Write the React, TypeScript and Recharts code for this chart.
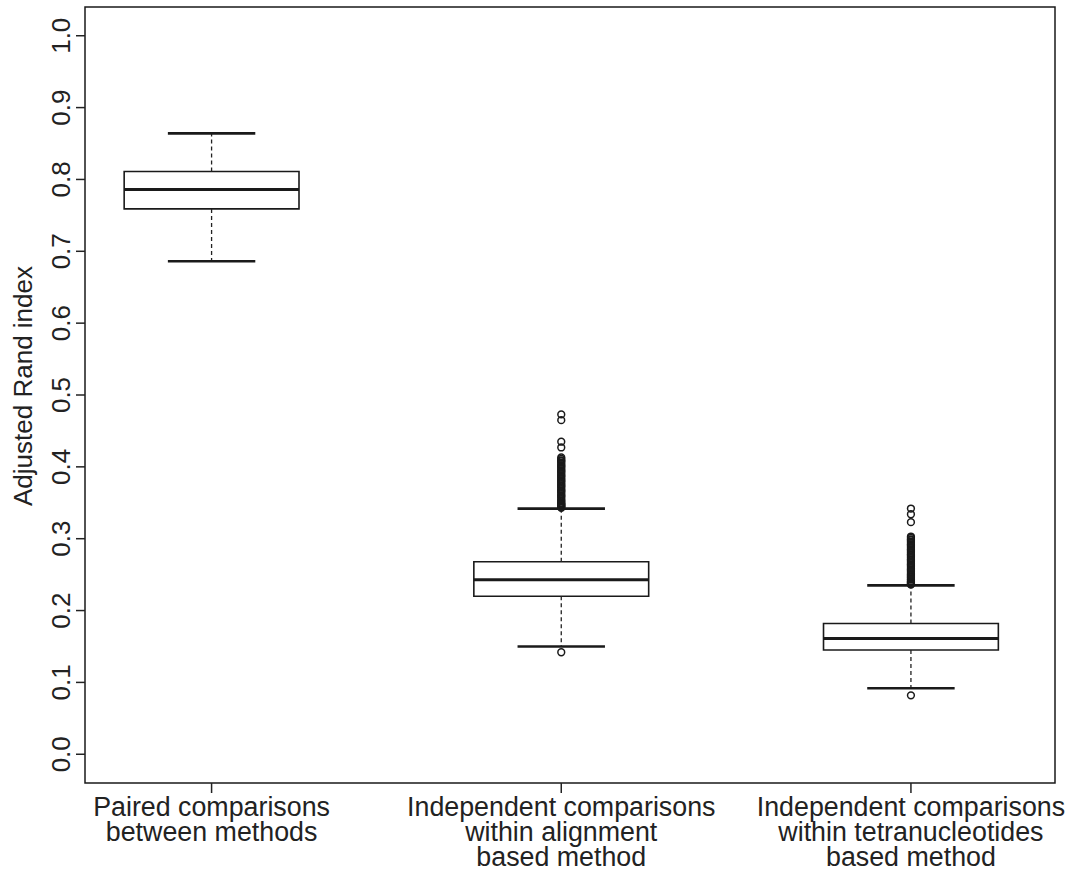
import React from 'react';
import {
  ComposedChart,
  Scatter,
  XAxis,
  YAxis,
  ReferenceArea,
  ReferenceLine,
} from 'recharts';

// Box plot of Adjusted Rand index per comparison group
const categories = [
  ['Paired comparisons', 'between methods'],
  ['Independent comparisons', 'within alignment', 'based method'],
  ['Independent comparisons', 'within tetranucleotides', 'based method'],
];
const positions = [1, 2, 3];
const lowerWhisker = [0.686, 0.15, 0.092];
const q1 = [0.759, 0.22, 0.145];
const median = [0.786, 0.243, 0.161];
const q3 = [0.811, 0.268, 0.182];
const upperWhisker = [0.864, 0.342, 0.235];

const outliersAlignment = [
  0.473, 0.465, 0.435, 0.427, 0.413, 0.411, 0.409, 0.408, 0.406, 0.404, 0.402, 0.401,
  0.399, 0.397, 0.395, 0.394, 0.392, 0.39, 0.388, 0.387, 0.385, 0.383, 0.381, 0.38,
  0.378, 0.376, 0.374, 0.373, 0.371, 0.369, 0.367, 0.366, 0.364, 0.362, 0.36, 0.359,
  0.357, 0.355, 0.353, 0.352, 0.35, 0.349, 0.348, 0.347, 0.346, 0.345, 0.344, 0.343,
  0.142,
];
const outliersTetra = [
  0.342, 0.334, 0.323, 0.303, 0.301, 0.299, 0.298, 0.296, 0.294, 0.292, 0.291, 0.289,
  0.287, 0.285, 0.284, 0.282, 0.28, 0.278, 0.277, 0.275, 0.273, 0.271, 0.27, 0.268,
  0.266, 0.264, 0.263, 0.261, 0.259, 0.257, 0.256, 0.254, 0.252, 0.25, 0.249, 0.247,
  0.246, 0.244, 0.243, 0.241, 0.24, 0.239, 0.238, 0.237, 0.236, 0.082,
];
const outliers = [[], outliersAlignment, outliersTetra];

const yTicks = [0, 0.1, 0.2, 0.3, 0.4, 0.5, 0.6, 0.7, 0.8, 0.9, 1.0];

const xDomain: [number, number] = [0.638, 3.412];
const yDomain: [number, number] = [-0.04, 1.04];
const boxHalf = 0.25;
const capHalf = 0.125;
const font = '"Liberation Sans", Arial, sans-serif';
const ink = '#1a1a1a';

const outlierPoints = positions.flatMap((p, i) => outliers[i].map((v) => ({ x: p, y: v })));

function OpenCircle(props: any) {
  const { cx, cy } = props;
  if (cx == null || cy == null) return null;
  return <circle cx={cx} cy={cy} r={3.4} fill="none" stroke={ink} strokeWidth={1.5} />;
}

function CategoryTick(props: any) {
  const { x, y, payload } = props;
  const lines = categories[Math.round(payload.value) - 1] || [];
  return (
    <text x={x} y={y} textAnchor="middle" fontSize={26.8} fill="#222" fontFamily={font}>
      {lines.map((l, i) => (
        <tspan key={i} x={x} dy={i === 0 ? 21 : 25}>
          {l}
        </tspan>
      ))}
    </text>
  );
}

function ValueTick(props: any) {
  const { x, y, payload } = props;
  const bx = x - 4;
  return (
    <text
      x={bx}
      y={y}
      transform={`rotate(-90, ${bx}, ${y})`}
      textAnchor="middle"
      fontSize={26}
      fill="#222"
      fontFamily={font}
    >
      {Number(payload.value).toFixed(1)}
    </text>
  );
}

function AxisTitle(props: any) {
  const { viewBox } = props;
  const tx = viewBox.x + 22;
  const ty = 386;
  return (
    <text
      x={tx}
      y={ty}
      transform={`rotate(-90, ${tx}, ${ty})`}
      textAnchor="middle"
      fontSize={26}
      fill="#222"
      fontFamily={font}
    >
      Adjusted Rand index
    </text>
  );
}

export default function App() {
  return (
    <div style={{ position: 'absolute', left: 0, top: 0, background: '#fff' }}>
      <ComposedChart
        width={1071}
        height={872}
        margin={{ top: 7, right: 16, left: 10, bottom: 4 }}
      >
        <XAxis
          type="number"
          dataKey="x"
          domain={xDomain}
          allowDataOverflow
          ticks={positions}
          interval={0}
          height={85}
          axisLine={false}
          tickSize={10}
          tickLine={{ stroke: '#222', strokeWidth: 1.5 }}
          tick={<CategoryTick />}
        />
        <YAxis
          type="number"
          dataKey="y"
          domain={yDomain}
          allowDataOverflow
          ticks={yTicks}
          interval={0}
          width={75}
          axisLine={false}
          tickSize={9}
          tickLine={{ stroke: '#222', strokeWidth: 1.5 }}
          tick={<ValueTick />}
          label={<AxisTitle />}
        />

        {/* plot frame */}
        <ReferenceArea
          x1={xDomain[0]}
          x2={xDomain[1]}
          y1={yDomain[0]}
          y2={yDomain[1]}
          fill="none"
          fillOpacity={0}
          stroke={ink}
          strokeWidth={1.5}
          ifOverflow="visible"
        />

        {positions.map((p, i) => (
          <ReferenceLine
            key={`wu${i}`}
            segment={[{ x: p, y: q3[i] }, { x: p, y: upperWhisker[i] }]}
            stroke="#222"
            strokeWidth={1.3}
            strokeDasharray="4 3"
          />
        ))}
        {positions.map((p, i) => (
          <ReferenceLine
            key={`wl${i}`}
            segment={[{ x: p, y: q1[i] }, { x: p, y: lowerWhisker[i] }]}
            stroke="#222"
            strokeWidth={1.3}
            strokeDasharray="4 3"
          />
        ))}
        {positions.map((p, i) => (
          <ReferenceArea
            key={`box${i}`}
            x1={p - boxHalf}
            x2={p + boxHalf}
            y1={q1[i]}
            y2={q3[i]}
            fill="#fff"
            fillOpacity={1}
            stroke={ink}
            strokeWidth={1.6}
          />
        ))}
        {positions.map((p, i) => (
          <ReferenceLine
            key={`med${i}`}
            segment={[{ x: p - boxHalf, y: median[i] }, { x: p + boxHalf, y: median[i] }]}
            stroke={ink}
            strokeWidth={3}
          />
        ))}
        {positions.map((p, i) => (
          <ReferenceLine
            key={`cu${i}`}
            segment={[{ x: p - capHalf, y: upperWhisker[i] }, { x: p + capHalf, y: upperWhisker[i] }]}
            stroke={ink}
            strokeWidth={2.8}
          />
        ))}
        {positions.map((p, i) => (
          <ReferenceLine
            key={`cl${i}`}
            segment={[{ x: p - capHalf, y: lowerWhisker[i] }, { x: p + capHalf, y: lowerWhisker[i] }]}
            stroke={ink}
            strokeWidth={2.5}
          />
        ))}

        <Scatter data={outlierPoints} shape={<OpenCircle />} isAnimationActive={false} />
      </ComposedChart>
    </div>
  );
}
